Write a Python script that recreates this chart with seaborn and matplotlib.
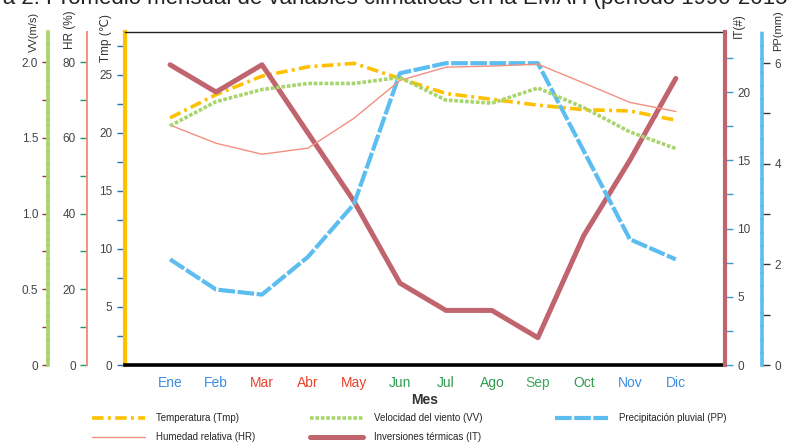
import numpy as np
import matplotlib
matplotlib.use("Agg")
import matplotlib.pyplot as plt
import seaborn as sns
import pandas as pd
from matplotlib.ticker import MultipleLocator

# datos mensuales
meses = ["Ene", "Feb", "Mar", "Abr", "May", "Jun", "Jul", "Ago", "Sep", "Oct", "Nov", "Dic"]
mes_colores = ["#3c8ee0", "#3c8ee0", "#e8432b", "#e8432b", "#e8432b", "#2e9b50",
               "#2e9b50", "#2e9b50", "#3aa860", "#2e9b50", "#3c8ee0", "#3c8ee0"]
tmp = [21.3, 23.3, 24.9, 25.7, 26.0, 24.7, 23.4, 22.9, 22.4, 22.0, 21.9, 21.1]
vv = [1.58, 1.74, 1.82, 1.86, 1.86, 1.90, 1.75, 1.73, 1.83, 1.70, 1.54, 1.43]
hr = [63.4, 58.6, 55.7, 57.3, 65.2, 75.2, 78.7, 79.0, 79.5, 74.5, 69.4, 67.0]
it = [22, 20, 22, 17, 12, 6, 4, 4, 2, 9.5, 15, 21]
pp = [2.1, 1.5, 1.4, 2.15, 3.2, 5.8, 6.0, 6.0, 6.0, 4.25, 2.5, 2.1]

df = pd.DataFrame({"i": range(12), "Mes": meses, "Tmp": tmp, "VV": vv,
                   "HR": hr, "IT": it, "PP": pp})

sns.set_style("white")
plt.rcParams['font.family'] = ['Liberation Sans', 'DejaVu Sans']
plt.rcParams['font.size'] = 8

c_tmp = "#ffc000"
c_vv = "#a8d46c"
c_pp = "#5bbdf0"
c_hr = "#f29080"
c_it = "#c0646e"
gris = "#444444"

W, H = 787, 443
fig = plt.figure(figsize=(W / 100, H / 100), dpi=100)
ax = fig.add_axes([125 / W, 78 / H, 600 / W, 333 / H])
ax_it = ax.twinx()
ax_pp = ax.twinx()
ax_hr = ax.twinx()
ax_vv = ax.twinx()

# series
sns.lineplot(data=df, x="i", y="HR", ax=ax_hr, color=c_hr, lw=1.0)
sns.lineplot(data=df, x="i", y="Tmp", ax=ax, color=c_tmp, lw=2.6,
             linestyle=(0, (3.2, 1.2, 0.8, 1.2)))
sns.lineplot(data=df, x="i", y="VV", ax=ax_vv, color=c_vv, lw=2.6,
             linestyle=(0, (1.0, 0.5)))
sns.lineplot(data=df, x="i", y="PP", ax=ax_pp, color=c_pp, lw=3.0,
             linestyle=(0, (4.0, 0.6)))
sns.lineplot(data=df, x="i", y="IT", ax=ax_it, color=c_it, lw=3.6)

l_hr = ax_hr.lines[-1]
l_tmp = ax.lines[-1]
l_vv = ax_vv.lines[-1]
l_pp = ax_pp.lines[-1]
l_it = ax_it.lines[-1]

ax.set_xlim(-0.98, 12.07)
ax.set_ylim(0, 28.7)
ax_vv.set_ylim(0, 2.2)
ax_hr.set_ylim(0, 88)
ax_it.set_ylim(0, 24.4)
ax_pp.set_ylim(0, 6.62)

for a in (ax, ax_it, ax_pp, ax_hr, ax_vv):
    a.set_xlabel("")
    a.set_ylabel("")
    for s in a.spines.values():
        s.set_visible(False)

# eje x
ax.spines['bottom'].set_visible(True)
ax.spines['bottom'].set_color("black")
ax.spines['bottom'].set_linewidth(2.6)
ax.spines['top'].set_visible(True)
ax.spines['top'].set_color("#222222")
ax.spines['top'].set_linewidth(1.0)
ax.set_xticks(range(12))
ax.set_xticklabels(meses, fontsize=10)
for lbl, c in zip(ax.get_xticklabels(), mes_colores):
    lbl.set_color(c)
ax.xaxis.set_minor_locator(MultipleLocator(1, offset=0.5))
ax.tick_params(axis='x', which='major', length=0, pad=8)
ax.tick_params(axis='x', which='minor', length=3, width=0.8, color="#333333", direction='out')
ax.text(0.5, -0.105, "Mes", transform=ax.transAxes, ha='center', va='center',
        fontsize=10, fontweight='bold', color="#333333")

# eje Tmp
ax.spines['left'].set_visible(True)
ax.spines['left'].set_color(c_tmp)
ax.spines['left'].set_linewidth(3.0)
ax.spines['left'].set_linestyle((0, (3.0, 0.9, 0.6, 0.9)))
ax.yaxis.set_major_locator(MultipleLocator(5))
ax.yaxis.set_minor_locator(MultipleLocator(2.5))
ax.tick_params(axis='y', which='both', left=True, length=6, width=1.0, color="#2a6eb0",
               labelcolor=gris, labelsize=8.5, pad=3)

# eje VV
ax_vv.yaxis.tick_left()
ax_vv.spines['left'].set_visible(True)
ax_vv.spines['left'].set_position(('axes', -77 / 600))
ax_vv.spines['left'].set_color(c_vv)
ax_vv.spines['left'].set_linewidth(2.6)
ax_vv.spines['left'].set_linestyle((0, (1.3, 0.45)))
ax_vv.yaxis.set_minor_locator(MultipleLocator(0.25))
ax_vv.set_yticks([0, 0.5, 1.0, 1.5, 2.0])
ax_vv.set_yticklabels(["0", "0.5", "1.0", "1.5", "2.0"])
ax_vv.tick_params(axis='y', which='both', left=True, right=False, length=4, width=1.0,
                  color="#a0303c", labelcolor=gris, labelsize=8.5, pad=3)

# eje HR
ax_hr.yaxis.tick_left()
ax_hr.spines['left'].set_visible(True)
ax_hr.spines['left'].set_position(('axes', -38 / 600))
ax_hr.spines['left'].set_color(c_hr)
ax_hr.spines['left'].set_linewidth(1.4)
ax_hr.yaxis.set_major_locator(MultipleLocator(20))
ax_hr.yaxis.set_minor_locator(MultipleLocator(10))
ax_hr.tick_params(axis='y', which='both', left=True, right=False, length=5, width=1.0,
                  color="#1e9e5a", labelcolor=gris, labelsize=8.5, pad=3)

# eje IT
ax_it.spines['right'].set_visible(True)
ax_it.spines['right'].set_color(c_it)
ax_it.spines['right'].set_linewidth(3.0)
ax_it.yaxis.set_major_locator(MultipleLocator(5))
ax_it.yaxis.set_minor_locator(MultipleLocator(2.5))
ax_it.tick_params(axis='y', which='both', right=True, length=6, width=1.0,
                  color="#3a9ad9", labelcolor=gris, labelsize=8.5, pad=3)

# eje PP
ax_pp.spines['right'].set_visible(True)
ax_pp.spines['right'].set_position(('axes', 1 + 37 / 600))
ax_pp.spines['right'].set_color(c_pp)
ax_pp.spines['right'].set_linewidth(2.6)
ax_pp.spines['right'].set_linestyle((0, (3.0, 0.7)))
ax_pp.yaxis.set_major_locator(MultipleLocator(2))
ax_pp.yaxis.set_minor_locator(MultipleLocator(1))
ax_pp.tick_params(axis='y', which='both', right=True, length=6, width=1.0,
                  color="#333333", labelcolor=gris, labelsize=8.5, pad=3)

# titulos de ejes
def etiqueta(x, y, s, fs=8.5):
    fig.text(x / W, 1 - y / H, s, rotation=90, ha='center', va='center',
             fontsize=fs, color="#333333")

etiqueta(34, 32, "VV(m/s)", fs=8)
etiqueta(70, 30, "HR (%)")
etiqueta(106, 38, "Tmp (\u2103)")
etiqueta(739, 26, "IT(#)")
etiqueta(778, 31, "PP(mm)", fs=8)

# titulo (cortado por el borde superior, como en la figura original)
fig.text(-48 / W, 1 - 4 / H,
         "Figura 2. Promedio mensual de variables climáticas en la EMAH (periodo 1990-2015)",
         ha='left', va='baseline', fontsize=16, color="#222222")

# leyenda
kw = dict(loc='upper left', frameon=False, fontsize=7, handlelength=5.5,
          handletextpad=1.1, labelspacing=0.95, borderaxespad=0, borderpad=0)
fig.legend([l_tmp, l_hr], ["Temperatura (Tmp)", "Humedad relativa (HR)"],
           bbox_to_anchor=(92 / W, 1 - 413 / H), **kw)
fig.legend([l_vv, l_it], ["Velocidad del viento (VV)", "Inversiones térmicas (IT)"],
           bbox_to_anchor=(310 / W, 1 - 413 / H), **kw)
fig.legend([l_pp], ["Precipitación pluvial (PP)"],
           bbox_to_anchor=(555 / W, 1 - 413 / H), **kw)

fig.savefig("out.png", dpi=100)
